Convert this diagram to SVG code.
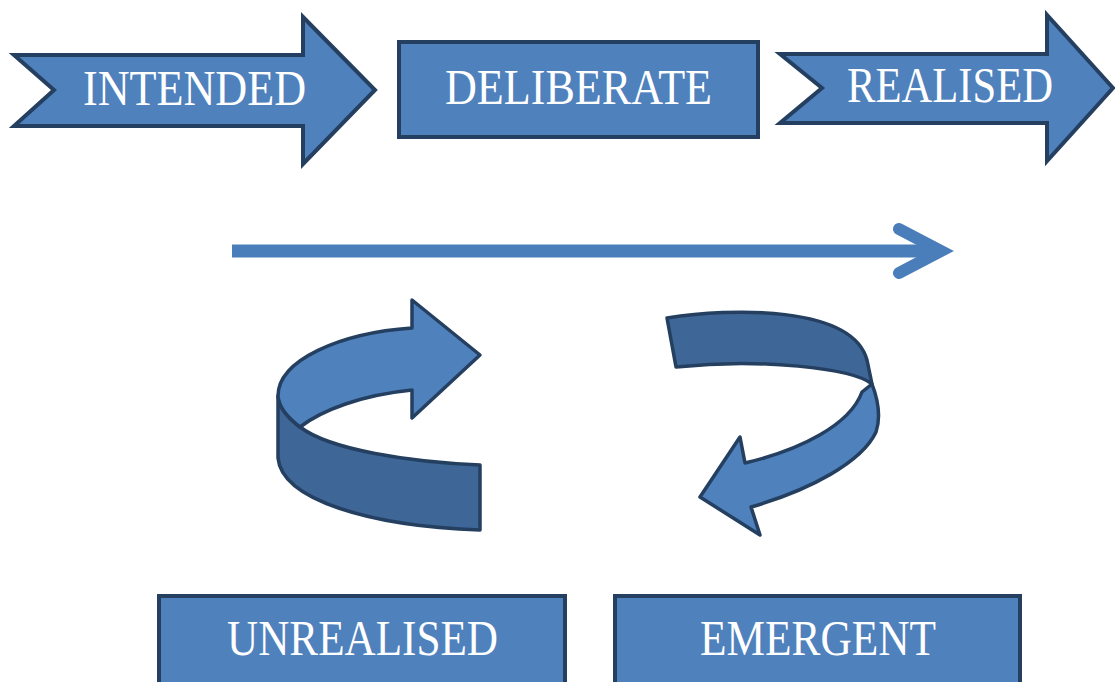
<svg xmlns="http://www.w3.org/2000/svg" width="1115" height="682" viewBox="0 0 1115 682">
  <style>
    .shape { fill: #4f81bd; stroke: #243f60; stroke-width: 4; stroke-linejoin: miter; }
    .band { stroke: #243f60; stroke-width: 3.5; stroke-linejoin: round; }
    .light { fill: #4f81bd; }
    .dark { fill: #3e6696; }
    .label { font-family: "Liberation Serif", "Times New Roman", serif; font-size: 50px; fill: #ffffff; }
  </style>
  <rect width="1115" height="682" fill="#ffffff"/>

  <g id="intended">
    <path class="shape" d="M14,55 L303,55 L303,17 L375,90 L303,164 L303,126 L14,126 L54,90 Z"/>
    <text class="label" x="83" y="105" textLength="223" lengthAdjust="spacingAndGlyphs">INTENDED</text>
  </g>

  <g id="deliberate">
    <rect class="shape" x="399" y="42" width="359" height="95"/>
    <text class="label" x="445" y="104" textLength="267" lengthAdjust="spacingAndGlyphs">DELIBERATE</text>
  </g>

  <g id="realised">
    <path class="shape" d="M780,54 L1047,54 L1047,15 L1113,88 L1047,161 L1047,123 L780,123 L822,88 Z"/>
    <text class="label" x="847" y="102" textLength="206" lengthAdjust="spacingAndGlyphs">REALISED</text>
  </g>

  <g id="unrealised">
    <rect class="shape" x="159" y="596" width="406" height="100"/>
    <text class="label" x="227" y="655" textLength="271" lengthAdjust="spacingAndGlyphs">UNREALISED</text>
  </g>

  <g id="emergent">
    <rect class="shape" x="615" y="596" width="405" height="100"/>
    <text class="label" x="700" y="655" textLength="236" lengthAdjust="spacingAndGlyphs">EMERGENT</text>
  </g>

  <g id="connectors">
    <!-- straight timeline arrow -->
    <g fill="none" stroke="#4a7ebb">
      <line x1="232" y1="251" x2="936" y2="251" stroke-width="13" stroke-linecap="butt"/>
      <polyline points="899,229 941,251 899,273" stroke-width="12" stroke-linecap="round" stroke-linejoin="miter"/>
    </g>

    <!-- left U-turn ribbon arrow -->
    <g id="loop-left">
      <path class="band dark" d="M278,396 L278,458 C282,500 370,526 480,530 L480,465 C410,462 330,450 300,427 C288,418 279,408 278,396 Z"/>
      <path class="band light" d="M278,396 C278,360 340,333 412,328 L412,300 L480,355 L412,418 L412,390 C362,395 322,410 300,427 C288,418 279,408 278,396 Z"/>
    </g>

    <!-- right U-turn ribbon arrow -->
    <g id="loop-right">
      <path class="band dark" d="M667,318 C730,308 852,305 867,360 L872,384 C852,368 760,358 676,367 Z"/>
      <path class="band light" d="M872,384 C880,405 880,420 876,432 C862,462 810,490 751,507 L760,535 L700,497 L740,437 L745,463 C800,450 850,425 862,392 Z"/>
    </g>
  </g>
</svg>
